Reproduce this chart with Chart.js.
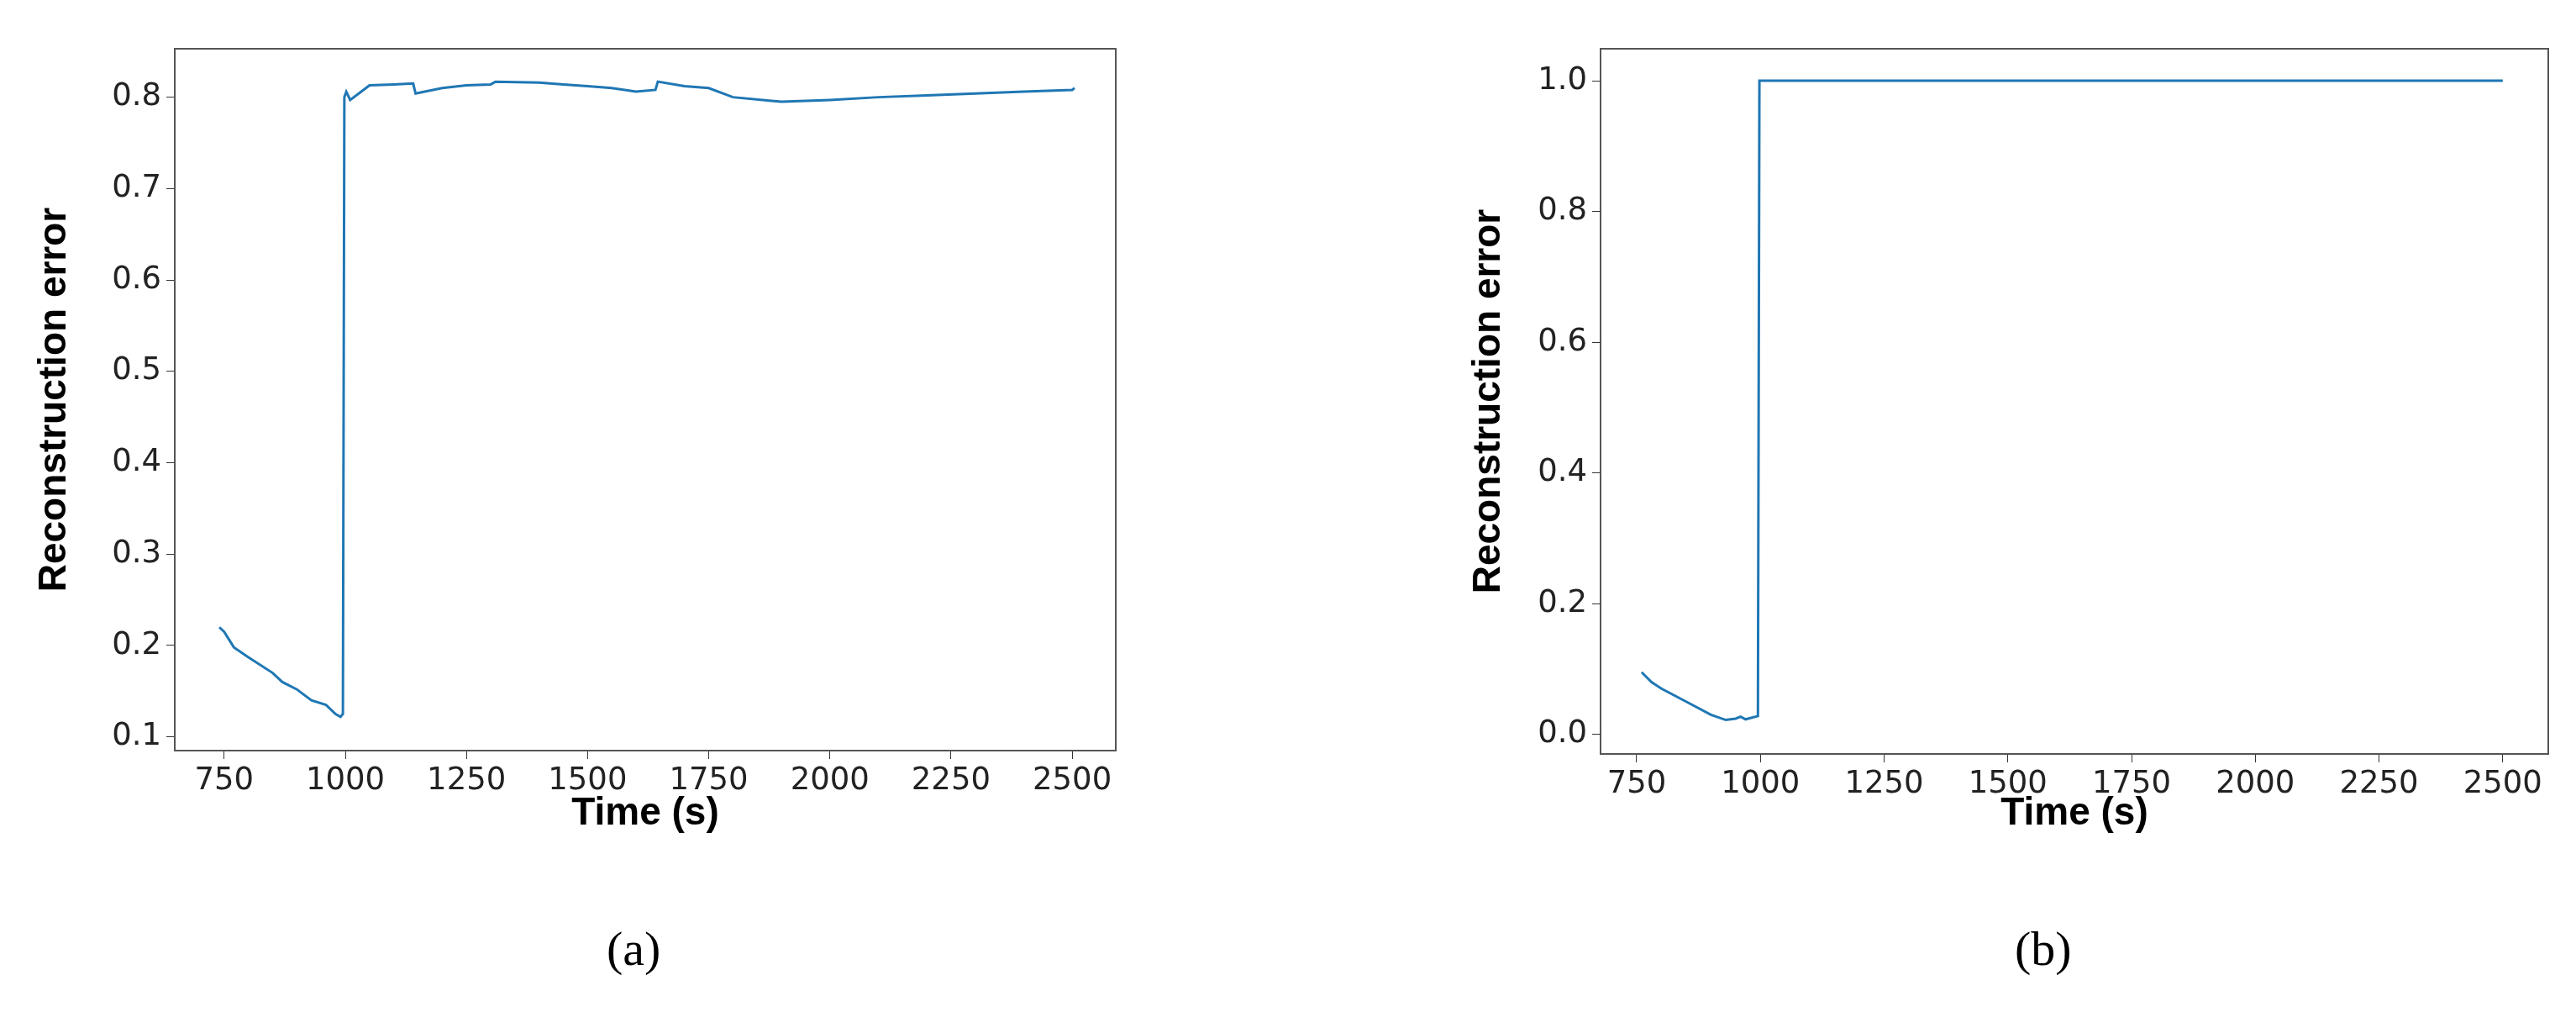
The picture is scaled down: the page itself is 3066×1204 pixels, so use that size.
<!DOCTYPE html><html><head><meta charset="utf-8">
<script src="https://cdn.jsdelivr.net/npm/chart.js@4"></script>
<style>body{margin:0;background:#fff;width:3066px;height:1204px;position:relative;overflow:hidden}
.w{position:absolute;top:0;height:1000px}
.cap{position:absolute;top:1095px;font:58px "Liberation Serif",serif;color:#000}</style></head><body>
<div class="w" style="left:0;width:1340px"><canvas id="a"></canvas></div>
<div class="w" style="left:1650px;width:1400px"><canvas id="b"></canvas></div>
<div class="cap" style="left:722px">(a)</div>
<div class="cap" style="left:2398px">(b)</div>
<script>
const timeA=[740,750,770,800,850,870,900,930,960,980,990,995,998,1002,1010,1030,1050,1100,1140,1145,1200,1250,1300,1310,1400,1450,1500,1550,1600,1640,1645,1700,1750,1800,1880,1900,2000,2100,2200,2300,2400,2500,2505];
const errA=[0.22,0.215,0.198,0.187,0.17,0.16,0.152,0.14,0.135,0.125,0.122,0.125,0.8,0.806,0.797,0.805,0.813,0.814,0.815,0.804,0.81,0.813,0.814,0.817,0.816,0.814,0.812,0.81,0.806,0.808,0.817,0.812,0.81,0.8,0.796,0.795,0.797,0.8,0.802,0.804,0.806,0.808,0.81];
const timeB=[760,780,800,850,900,930,950,960,970,995,998,2500];
const errB=[0.095,0.08,0.07,0.05,0.03,0.022,0.024,0.027,0.023,0.028,1.0,1.0];
const xTicks=[750,1000,1250,1500,1750,2000,2250,2500];
Chart.defaults.animation=false;
function mk(id,t,e,xr,yr,step,dec,yw,top,rp,xh,tp){
 new Chart(document.getElementById(id),{type:'scatter',data:{datasets:[{data:t.map((x,i)=>({x,y:e[i]})),showLine:true,borderColor:'#1f77b4',borderWidth:3,pointRadius:0,tension:0}]},
 options:{responsive:true,maintainAspectRatio:false,layout:{padding:{top:top,right:rp,left:0,bottom:0}},plugins:{legend:{display:false},tooltip:{enabled:false}},
 scales:{x:{type:'linear',min:xr[0],max:xr[1],afterBuildTicks:s=>{s.ticks=xTicks.map(v=>({value:v}))},afterFit:s=>{s.height=xh},
   grid:{display:true,drawOnChartArea:false,drawTicks:true,tickLength:10,tickColor:'#333'},border:{color:'#555',width:2},
   ticks:{color:'#222',font:{family:'DejaVu Sans',size:37},padding:4,maxRotation:0,autoSkip:false,callback:v=>String(v)},
   title:{display:true,text:'Time (s)',color:'#000',font:{family:'Liberation Sans',size:46,weight:'bold'},padding:{top:2}}},
  y:{min:yr[0],max:yr[1],afterBuildTicks:s=>{const a=[];for(let v=Math.ceil(yr[0]/step)*step;v<=yr[1]+1e-9;v+=step)a.push({value:+v.toFixed(3)});s.ticks=a},afterFit:s=>{s.width=yw},
   grid:{display:true,drawOnChartArea:false,tickLength:10,tickColor:'#333'},border:{color:'#555',width:2},
   ticks:{color:'#222',font:{family:'DejaVu Sans',size:37},padding:6,callback:v=>v.toFixed(dec)},
   title:{display:true,text:'Reconstruction error',color:'#000',font:{family:'Liberation Sans',size:46,weight:'bold'},padding:{top:tp,bottom:4}}}}},
 plugins:[{id:'box',afterDraw(c){const a=c.chartArea,x=c.ctx;x.save();x.strokeStyle='#555';x.lineWidth=2;x.strokeRect(a.left,a.top,a.right-a.left,a.bottom-a.top);x.restore();}}]});
}
mk('a',timeA,errA,[648,2590],[0.085,0.853],0.1,1,208,58,12,107,38);
mk('b',timeB,errB,[677,2592],[-0.03,1.049],0.2,1,255,58,17,103,95);
</script></body></html>
